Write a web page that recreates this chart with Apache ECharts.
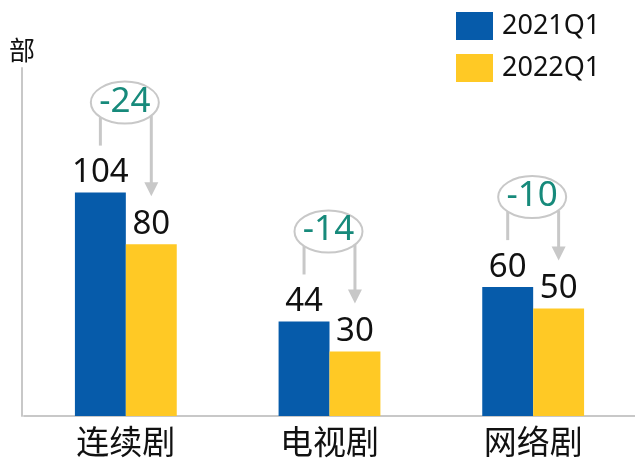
<!DOCTYPE html>
<html>
<head>
<meta charset="utf-8">
<script src="https://cdn.jsdelivr.net/npm/echarts@6/dist/echarts.min.js"></script>
<style>
  html, body { margin: 0; padding: 0; background: #fff; }
  #chart { width: 635px; height: 461px; }
</style>
</head>
<body>
<div id="chart"></div>
<script>
const categories = ['连续剧', '电视剧', '网络剧'];
const seriesNames = ['2021Q1', '2022Q1'];
const values2021 = [104, 44, 60];
const values2022 = [80, 30, 50];
const unitName = '部';

const BLUE = '#065BAA';
const YELLOW = '#FFC925';
const GRAY = '#c8c8c8';
const FONT = '"Noto Sans", "Noto Sans CJK SC", sans-serif';

// bar pairs: [index, first, second, difference]
const diffData = categories.map((c, i) => [i, values2021[i], values2022[i], values2022[i] - values2021[i]]);

function renderDiff(params, api){
  const i = api.value(0);
  const center = api.coord([i, 0]);
  const catW = api.size([1, 0])[0];
  const off = catW * 0.125;
  const xa = center[0] - off, xb = center[0] + off;
  const topA = api.coord([i, api.value(1)])[1];
  const topB = api.coord([i, api.value(2)])[1];
  const cx = center[0] - 1, cy = topA - 90;
  const rx = 34, ry = 21;
  const edge = x => cy + ry * Math.sqrt(Math.max(0, 1 - Math.pow((x - cx) / rx, 2)));
  const tip = topB - 48;
  return {
    type: 'group',
    children: [
      { type: 'line', shape: { x1: xa, y1: edge(xa), x2: xa, y2: topA - 47 }, style: { stroke: GRAY, lineWidth: 3 } },
      { type: 'line', shape: { x1: xb, y1: edge(xb), x2: xb, y2: tip - 12 }, style: { stroke: GRAY, lineWidth: 3 } },
      { type: 'polygon', shape: { points: [[xb - 7, tip - 14], [xb + 7, tip - 14], [xb, tip]] }, style: { fill: GRAY } },
      { type: 'ellipse', shape: { cx: cx, cy: cy, rx: rx, ry: ry }, style: { fill: 'none', stroke: GRAY, lineWidth: 2 } },
      { type: 'text', x: cx, y: cy - 1, style: {
          text: String(api.value(3)), fill: '#178a7b', fontSize: 35, fontFamily: FONT,
          align: 'center', verticalAlign: 'middle' } }
    ]
  };
}

const chart = echarts.init(document.getElementById('chart'));
chart.setOption({
  animation: false,
  backgroundColor: '#fff',
  textStyle: { fontFamily: FONT },
  grid: { left: 24, right: -4, top: 68, bottom: 44 },
  legend: {
    data: seriesNames,
    orient: 'vertical',
    left: 456, top: 12,
    padding: 0,
    icon: 'rect',
    itemWidth: 37, itemHeight: 28, itemGap: 14,
    textStyle: { fontSize: 27, color: '#111', padding: [0, 0, 0, 4] }
  },
  xAxis: {
    type: 'category',
    data: categories,
    axisTick: { show: false },
    axisLine: { lineStyle: { color: GRAY, width: 2 } },
    axisLabel: { fontSize: 33, color: '#111', margin: 12 }
  },
  yAxis: {
    type: 'value',
    min: 0, max: 162,
    offset: 2,
    name: unitName,
    nameGap: 2,
    nameTextStyle: { fontSize: 26, color: '#111' },
    axisLine: { show: true, lineStyle: { color: GRAY, width: 2 } },
    axisTick: { show: false },
    axisLabel: { show: false },
    splitLine: { show: false }
  },
  series: [
    {
      name: seriesNames[0], type: 'bar', data: values2021,
      barWidth: '25%', barGap: 0,
      itemStyle: { color: BLUE },
      label: { show: true, position: 'top', distance: 3, fontSize: 33, color: '#111' }
    },
    {
      name: seriesNames[1], type: 'bar', data: values2022,
      barWidth: '25%', barGap: 0,
      itemStyle: { color: YELLOW },
      label: { show: true, position: 'top', distance: 3, fontSize: 33, color: '#111' }
    },
    {
      type: 'custom', data: diffData,
      encode: { x: 0, y: 1 },
      renderItem: renderDiff,
      z: 5, silent: true
    }
  ]
});
</script>
</body>
</html>
